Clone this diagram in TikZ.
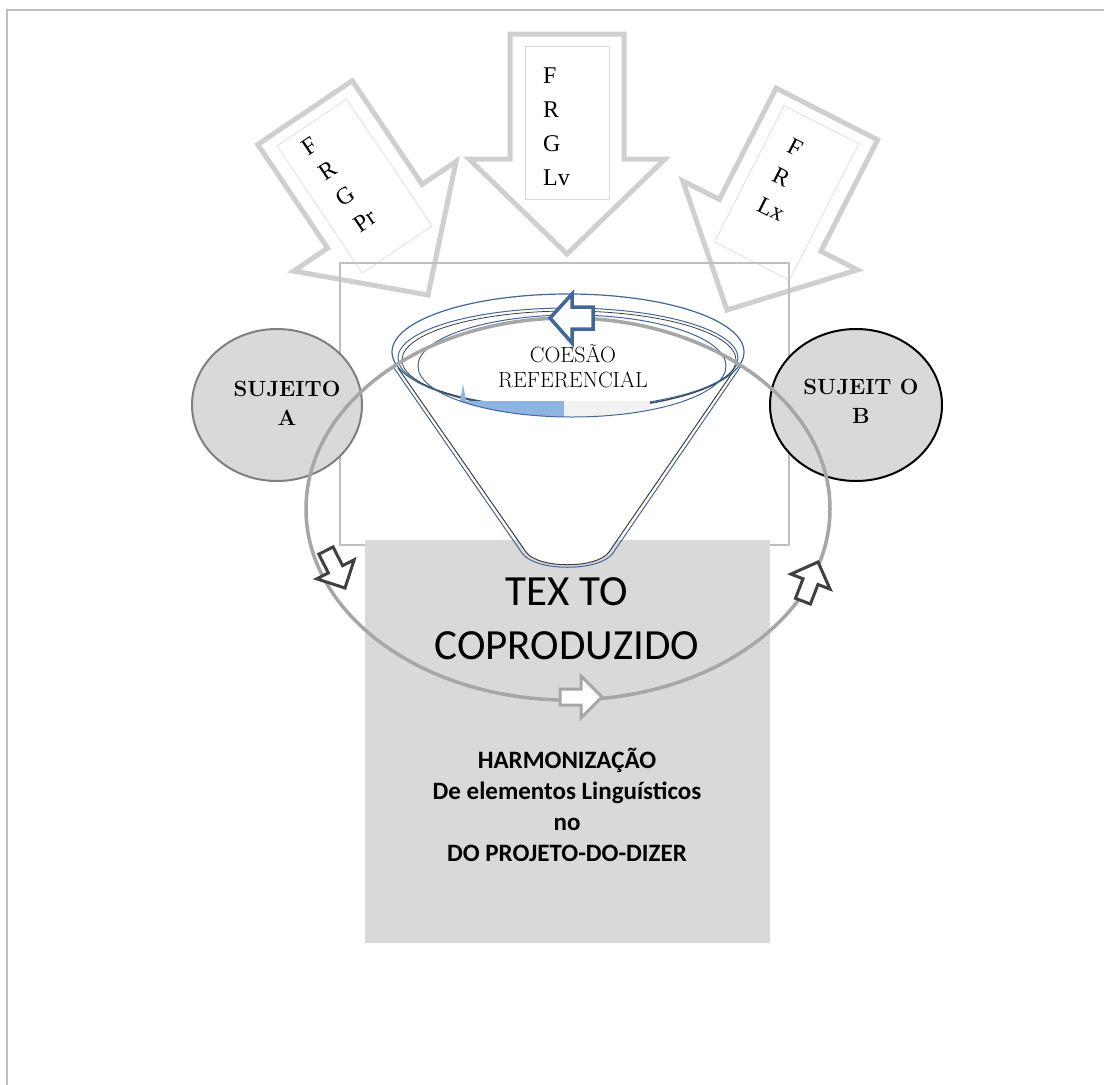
\documentclass[tikz,border=0pt]{standalone}
\usepackage{fontspec}
\newfontfamily\calibri{Carlito}
\newfontfamily\timesrm{Liberation Serif}
\usetikzlibrary{positioning}

\definecolor{framegray}{HTML}{BFBFBF}
\definecolor{arrowgray}{HTML}{CFCFCF}
\definecolor{boxgray}{HTML}{D9D9D9}
\definecolor{ringgray}{HTML}{A6A6A6}
\definecolor{edgegray}{HTML}{7F7F7F}
\definecolor{darkarrow}{HTML}{404040}
\definecolor{funnelblue}{HTML}{41679A}
\definecolor{coneblue}{HTML}{8DB4E2}
\definecolor{conegray}{HTML}{F2F2F2}

\tikzset{
  pics/blockdown/.style={code={
    \draw[bigarrow] (-57,-220) -- (57,-220) -- (57,-95) -- (98,-95)
      -- (0,0) -- (-98,-95) -- (-57,-95) -- cycle;
    \draw[letterbox] (-42,-208) rectangle (42,-55);
  }},
  pics/smallblock/.style={code={
    \draw[#1] (-42,-8) -- (-21,-8) -- (-21,-21) -- (0,0)
      -- (-21,21) -- (-21,8) -- (-42,8) -- cycle;
  }},
}

\begin{document}
\begin{tikzpicture}[x=1pt,y=-1pt,
  bigarrow/.style={draw=arrowgray,line width=5pt,fill=white},
  letterbox/.style={draw=boxgray,line width=0.6pt},
  letters/.style={anchor=north west,align=left,inner sep=0pt,font=\timesrm\fontsize{24}{#1}\selectfont},
  darkblock/.style={draw=darkarrow,line width=3pt,fill=white},
  lightblock/.style={draw=ringgray,line width=3pt,fill=white},
  sujeito/.style={fill=boxgray,line width=2pt},
  sujtext/.style={align=center,font=\bfseries\fontsize{22}{29}\selectfont},
  rimtext/.style={align=center,font=\fontsize{22}{25}\selectfont}]
\useasboundingbox (0,0) rectangle (1104,1085);

%-- page frame --
\draw[framegray,line width=2pt] (7,1085) -- (7,10) -- (1104,10);

%-- the three arrows on top --
\begin{scope}[shift={(428,295)},rotate=34,transform shape]
  \pic {blockdown};
  \node[letters=31] (pr) at (-22,-198) {F\\R\\G\\Pr};
\end{scope}
\begin{scope}[shift={(567,254)}]
  \pic {blockdown};
  \node[letters=34] (lv) at (-24,-186) {F\\R\\G\\Lv};
\end{scope}
\begin{scope}[shift={(727,310)},rotate=-27,transform shape]
  \pic {blockdown};
  \node[letters=33] (lx) at (-20,-184) {F\\R\\Lx};
\end{scope}

%-- frame round the funnel --
\draw[framegray,line width=1.5pt] (340,263) rectangle (789,545);

%-- texto coproduzido --
\fill[boxgray] (365,540) rectangle (770,943);
\node[align=center,font=\calibri\fontsize{43}{54}\selectfont] (texto) at (567,619) {TEX TO\\COPRODUZIDO};
\node[align=center,font=\calibri\bfseries\fontsize{25}{31}\selectfont] (harmon) at (567,805)
  {HARMONIZAÇÃO\\De elementos Linguísticos\\no\\DO PROJETO-DO-DIZER};

%-- funnel --
\draw[darkarrow,line width=1pt,fill=white] (398,368) -- (526,552)
  .. controls (538,569) and (597,569) .. (609,552) -- (737,366);
\draw[funnelblue,line width=1pt] (394,368) -- (522,553)
  .. controls (535,572) and (600,572) .. (613,553) -- (741,366);
\draw[funnelblue,line width=1.2pt,fill=white] (568,352) ellipse [x radius=176,y radius=58];
\draw[funnelblue,line width=1pt] (568,358) ellipse [x radius=170,y radius=50];
\draw[darkarrow,line width=0.8pt] (569,360) ellipse [x radius=167,y radius=49];
\begin{scope}
  \clip (572,366) ellipse [x radius=154,y radius=51];
  \fill[coneblue] (460,401) rectangle (564,420);
  \fill[coneblue] (460,401) -- (463,384) -- (466,401) -- cycle;
  \fill[conegray] (564,401) rectangle (650,420);
\end{scope}
\draw[funnelblue,line width=1pt] (572,366) ellipse [x radius=154,y radius=51];

%-- the two subjects --
\draw[sujeito,draw=edgegray] (277,405) ellipse [x radius=85,y radius=76];
\node[sujtext] (sujA) at (287,403) {SUJEITO\\A};
\draw[sujeito,draw=black] (856,405) ellipse [x radius=86,y radius=76];
\node[sujtext] (sujB) at (861,401) {SUJEIT O\\B};

%-- the cycle --
\draw[ringgray,line width=3.5pt] (568,509) ellipse [x radius=262,y radius=191];
\pic[rotate=-63] at (345,588) {smallblock=darkblock};
\pic[rotate=69] at (818,562) {smallblock=darkblock};
\pic at (602,697) {smallblock=lightblock};

%-- arrow and text in the funnel --
\draw[draw=funnelblue,line width=3.5pt,fill=white] (550,318) -- (572,294) -- (572,307)
  -- (593,307) -- (593,329) -- (572,329) -- (572,343) -- cycle;
\node[rimtext] (coesao) at (573,366) {COESÃO\\REFERENCIAL};

\end{tikzpicture}
\end{document}
